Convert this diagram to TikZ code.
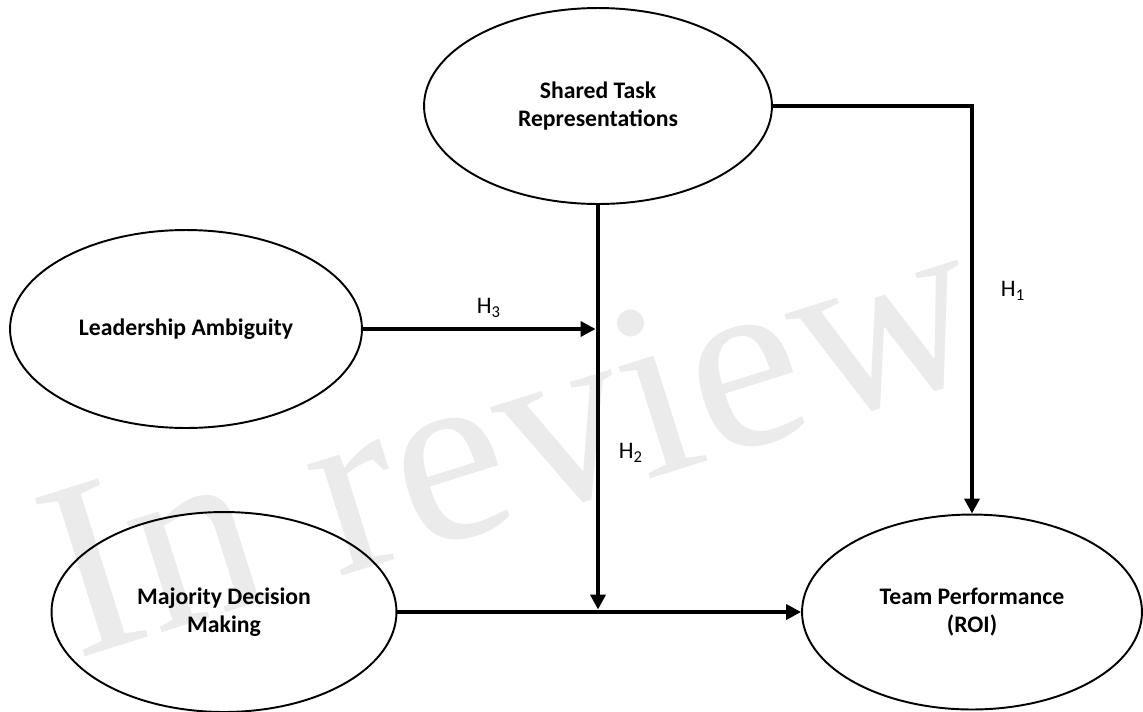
\documentclass[tikz,border=0pt]{standalone}
\usepackage{fontspec}
\setmainfont{Carlito}
\newfontfamily\wmfont{Liberation Serif}
\usepackage{tikz}
\usetikzlibrary{positioning, arrows.meta, shapes.geometric}

\begin{document}
\begin{tikzpicture}[
    x=0.02cm, y=-0.02cm,
    construct/.style={draw, ellipse, line width=1.1pt, align=center, font=\fontsize{13.5}{16}\selectfont\bfseries, inner sep=0pt},
    hyp/.style={font=\fontsize{13.5}{16}\selectfont},
    arr/.style={-{Triangle[length=8.5pt, width=8.5pt]}, line width=2.8pt},
    watermark/.style={font=\wmfont\fontsize{144}{144}\selectfont, text=black!8, rotate=17.5, anchor=base west, inner sep=0pt},
]
\useasboundingbox (0,0) rectangle (1143,711);

% --- watermark (behind everything) ---
\node[watermark] (wm) at (76,660) {In review};

% --- Constructs ---
\node[construct, minimum width=6.96cm, minimum height=3.92cm] (st) at (598,106) {Shared Task\\Representations};
\node[construct, minimum width=7.04cm, minimum height=3.96cm] (la) at (186,329) {Leadership Ambiguity};
\node[construct, minimum width=6.9cm, minimum height=4cm] (md) at (224,612) {Majority Decision\\Making};
\node[construct, minimum width=6.8cm, minimum height=3.9cm] (tp) at (972,612) {Team Performance\\(ROI)};

% junctions on the vertical moderator line
\coordinate (j3) at (st.south |- la.east);
\coordinate (j2) at (st.south |- md.east);

% --- Paths ---
\draw[arr] (st.east) -| (tp.north);
\draw[arr, shorten >=1.4pt] (st.south) -- (j2);
\draw[arr, shorten >=1.4pt] (la.east) -- (j3);
\draw[arr] (md.east) -- (tp.west);

% --- Hypothesis labels ---
\node[hyp] (h1) at (1013,291) {H\textsubscript{1}};
\node[hyp] (h2) at (631,453) {H\textsubscript{2}};
\node[hyp] (h3) at (489,308) {H\textsubscript{3}};

\end{tikzpicture}
\end{document}
